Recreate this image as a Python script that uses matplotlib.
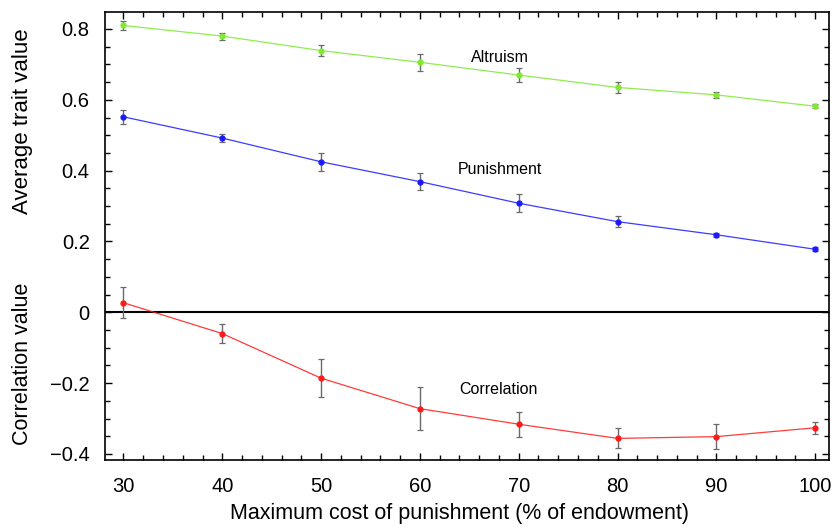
import matplotlib
matplotlib.use("Agg")
import matplotlib.pyplot as plt
from matplotlib.ticker import MultipleLocator, FixedLocator

plt.rcParams['font.family'] = ['Liberation Sans', 'DejaVu Sans']

cost = [30, 40, 50, 60, 70, 80, 90, 100]
altruism = [0.810, 0.780, 0.739, 0.706, 0.670, 0.635, 0.614, 0.582]
altruism_err = [0.012, 0.010, 0.0165, 0.0245, 0.019, 0.016, 0.008, 0.006]
punishment = [0.552, 0.492, 0.425, 0.369, 0.308, 0.256, 0.219, 0.178]
punishment_err = [0.020, 0.012, 0.025, 0.024, 0.025, 0.015, 0.006, 0.006]
correlation = [0.027, -0.060, -0.186, -0.272, -0.316, -0.356, -0.351, -0.326]
correlation_err = [0.044, 0.026, 0.054, 0.061, 0.035, 0.028, 0.035, 0.017]

series_labels = ["Altruism", "Punishment", "Correlation"]
xticks = [30, 40, 50, 60, 70, 80, 90, 100]
yticks = [-0.4, -0.2, 0, 0.2, 0.4, 0.6, 0.8]
ytick_labels = ["\u22120.4", "\u22120.2", "0", "0.2", "0.4", "0.6", "0.8"]

fig = plt.figure(figsize=(8.34, 5.28), dpi=100)
ax = fig.add_axes([105/834, 1-460/528, (829-105)/834, (460-12)/528])

ax.axhline(0, color='black', lw=1.5, zorder=1)

colors = ['#7fe832', '#1a1aff', '#ff1a1a']
for vals, errs, c in [(altruism, altruism_err, colors[0]),
                      (punishment, punishment_err, colors[1]),
                      (correlation, correlation_err, colors[2])]:
    ax.errorbar(cost, vals, yerr=errs, fmt='none', ecolor='#6a6a6a',
                elinewidth=1.0, capsize=2.2, capthick=0.9, zorder=2)
    ax.plot(cost, vals, '-', color=c, lw=0.9, alpha=0.85, zorder=3)
    ax.plot(cost, vals, 'o', color=c, ms=3.5, mec=c, zorder=4)

ax.text(68.1, 0.72, series_labels[0], fontsize=11.5, ha='center', va='center')
ax.text(68.1, 0.403, series_labels[1], fontsize=11.5, ha='center', va='center')
ax.text(67.9, -0.218, series_labels[2], fontsize=11.5, ha='center', va='center')

ax.set_xlim(28.13, 101.4)
ax.set_ylim(-0.417, 0.848)
ax.xaxis.set_major_locator(FixedLocator(xticks))
ax.xaxis.set_minor_locator(MultipleLocator(2))
ax.yaxis.set_major_locator(FixedLocator(yticks))
ax.set_yticklabels(ytick_labels)
ax.yaxis.set_minor_locator(MultipleLocator(0.05))

ax.tick_params(which='both', direction='in', top=True, right=True, width=1.0)
ax.tick_params(which='major', length=5, labelsize=14.5)
ax.tick_params(axis='y', which='major', pad=11)
ax.tick_params(axis='x', which='major', pad=12)
ax.tick_params(which='minor', length=3.5)
for s in ax.spines.values():
    s.set_linewidth(1.2)

fig.text(460/834, 1-514/528, "Maximum cost of punishment (% of endowment)",
         fontsize=15.5, ha='center', va='center')
fig.text(23/834, 1-121/528, "Average trait value", rotation=90, fontsize=16,
         ha='center', va='center')
fig.text(23/834, 1-364/528, "Correlation value", rotation=90, fontsize=15.5,
         ha='center', va='center')

fig.savefig("out.png", dpi=100)
